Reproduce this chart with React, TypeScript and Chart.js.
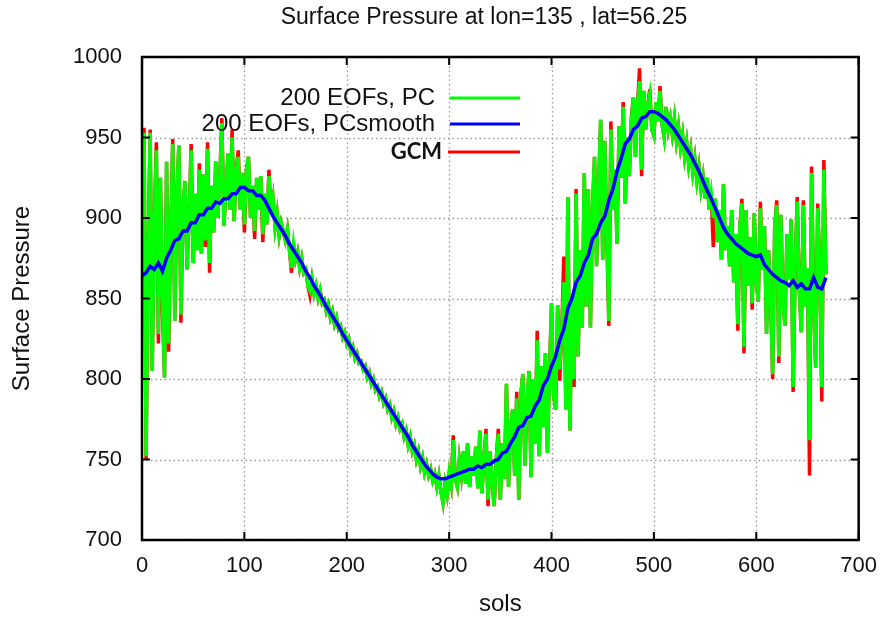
import React, { useEffect, useRef } from 'react';
import { Chart, registerables } from 'chart.js';

Chart.register(...registerables);

const TITLE = 'Surface Pressure at lon=135 , lat=56.25';
const X_LABEL = 'sols';
const Y_LABEL = 'Surface Pressure';
const LEGEND_LABELS = ['200 EOFs, PC', '200 EOFs, PCsmooth', 'GCM'];
const X_TICKS = [0, 100, 200, 300, 400, 500, 600, 700];
const Y_TICKS = [700, 750, 800, 850, 900, 950, 1000];

// sols between consecutive samples
const NOISY_STEP = 2;
const SMOOTH_STEP = 4;

// 200 EOFs, PC (sols 0..668 every 2 sols)
const PC = [
  865, 953, 752, 880, 953, 805, 900, 942, 828, 925,
  850, 801, 935, 822, 890, 946, 836, 915, 945, 840,
  905, 923, 868, 900, 942, 872, 915, 880, 930, 878,
  927, 886, 943, 872, 920, 891, 935, 900, 925, 959,
  895, 918, 940, 905, 950, 898, 930, 938, 905, 928,
  896, 930, 938, 900, 920, 892, 925, 905, 926, 890,
  915, 896, 926, 903, 912, 894, 903, 889, 897, 892,
  886, 893, 880, 869, 884, 874, 879, 869, 875, 866,
  868, 858, 855, 862, 853, 858, 850, 855, 847, 849,
  842, 846, 838, 842, 834, 838, 831, 833, 826, 829,
  822, 825, 817, 820, 813, 816, 810, 811, 806, 808,
  801, 804, 797, 800, 793, 795, 789, 792, 785, 788,
  781, 784, 776, 780, 772, 776, 769, 772, 764, 768,
  759, 764, 755, 759, 750, 755, 746, 751, 742, 747,
  740, 744, 737, 741, 733, 740, 730, 723, 735, 728,
  741, 734, 762, 738, 733, 750, 740, 755, 735, 760,
  733, 752, 740, 758, 732, 768, 729, 750, 766, 725,
  755, 735, 721, 750, 766, 725, 760, 738, 797, 733,
  770, 781, 740, 788, 725, 790, 803, 746, 785, 805,
  739, 800, 760, 824, 752, 808, 770, 816, 754, 800,
  847, 790, 781, 846, 806, 830, 860, 781, 913, 768,
  850, 800, 915, 814, 880, 832, 928, 845, 918, 832,
  905, 938, 870, 920, 961, 874, 948, 890, 836, 955,
  905, 930, 884, 957, 925, 969, 909, 950, 926, 960,
  975, 938, 970, 985, 930, 979, 955, 970, 977, 955,
  951, 972, 960, 979, 958, 950, 969, 955, 962, 952,
  962, 948, 957, 944, 952, 938, 947, 933, 942, 928,
  937, 923, 932, 918, 926, 912, 925, 905, 915, 900,
  912, 885, 905, 874, 921, 880, 895, 870, 905, 860,
  890, 834, 895, 909, 820, 905, 858, 888, 847, 903,
  860, 848, 906, 868, 895, 828, 880, 850, 803, 895,
  908, 814, 902, 850, 833, 890, 862, 899, 795, 870,
  910, 855, 829, 908, 845, 869, 762, 928, 850, 807,
  906, 870, 795, 930, 865,
];

// GCM (sols 0..668 every 2 sols)
const GCM = [
  865, 956, 750, 880, 955, 805, 900, 947, 822, 925,
  842, 801, 935, 817, 890, 949, 836, 915, 945, 835,
  905, 923, 868, 900, 946, 872, 915, 880, 934, 878,
  927, 882, 947, 866, 920, 891, 935, 900, 925, 962,
  895, 918, 940, 905, 955, 898, 930, 942, 905, 928,
  891, 930, 938, 900, 920, 887, 925, 905, 926, 885,
  915, 896, 930, 903, 912, 894, 903, 889, 897, 892,
  886, 893, 880, 866, 884, 874, 879, 869, 875, 866,
  868, 858, 852, 862, 853, 858, 850, 855, 847, 849,
  842, 846, 838, 842, 834, 838, 831, 833, 826, 829,
  822, 825, 817, 820, 813, 816, 810, 811, 806, 808,
  801, 804, 797, 800, 793, 795, 789, 792, 785, 788,
  781, 784, 776, 780, 772, 776, 769, 772, 764, 768,
  759, 764, 755, 759, 750, 755, 746, 751, 742, 747,
  740, 744, 737, 741, 733, 740, 730, 723, 735, 728,
  741, 734, 765, 738, 733, 750, 740, 755, 735, 760,
  733, 752, 740, 758, 732, 768, 729, 750, 769, 721,
  755, 735, 721, 750, 769, 725, 760, 738, 797, 733,
  770, 781, 740, 792, 725, 790, 803, 746, 785, 805,
  739, 800, 760, 830, 752, 808, 770, 816, 754, 805,
  847, 790, 781, 846, 799, 830, 876, 781, 913, 768,
  850, 795, 918, 814, 880, 832, 928, 845, 918, 832,
  905, 938, 870, 920, 961, 874, 948, 890, 833, 960,
  905, 930, 884, 957, 925, 972, 909, 950, 926, 963,
  975, 938, 970, 993, 926, 979, 955, 970, 980, 955,
  951, 972, 960, 982, 958, 950, 969, 955, 962, 952,
  962, 948, 957, 944, 952, 938, 947, 933, 942, 928,
  937, 923, 932, 918, 926, 912, 925, 905, 915, 882,
  912, 885, 905, 874, 921, 880, 895, 870, 905, 860,
  890, 830, 895, 912, 816, 905, 858, 888, 843, 903,
  860, 848, 910, 868, 895, 828, 880, 850, 800, 895,
  911, 810, 902, 850, 833, 890, 862, 899, 792, 870,
  913, 855, 829, 911, 845, 869, 740, 932, 850, 807,
  909, 870, 786, 936, 865,
];

// 200 EOFs, PCsmooth (sols 0..668 every 4 sols)
const PC_SMOOTH = [
  864, 866, 870, 868, 872, 867, 875, 880, 886, 887,
  892, 892, 897, 897, 902, 902, 906, 906, 910, 909,
  912, 912, 915, 915, 919, 919, 917, 917, 914, 914,
  911, 906, 901, 897, 893, 889, 884, 880, 876, 872,
  867, 863, 858, 854, 850, 845, 841, 837, 833, 828,
  824, 820, 816, 812, 808, 804, 800, 796, 792, 788,
  784, 780, 776, 772, 768, 764, 759, 755, 751, 747,
  744, 741, 739, 738, 738, 739, 740, 741, 742, 743,
  744, 744, 746, 745, 747, 747, 749, 750, 754, 755,
  760, 764, 770, 771, 776, 777, 783, 787, 796, 800,
  808, 814, 824, 831, 844, 850, 860, 864, 872, 877,
  887, 890, 897, 901, 911, 918, 929, 937, 946, 949,
  955, 957, 962, 963, 966, 966, 965, 963, 961, 958,
  955, 951, 947, 943, 939, 934, 929, 923, 917, 912,
  906, 900, 894, 890, 887, 884, 882, 880, 878, 877,
  876, 877, 871, 868, 865, 863, 861, 860, 858, 861,
  857, 859, 856, 856, 863, 857, 856, 863,
];

const COLORS = { pc: '#00ff00', smooth: '#0000ff', gcm: '#ff0000' };
const FONT = '"Liberation Sans", Arial, Helvetica, sans-serif';

const toPoints = (arr: number[], step: number) => arr.map((v, i) => ({ x: i * step, y: v }));

const decor = {
  id: 'decor',
  beforeDraw(chart: any) {
    const ctx = chart.ctx;
    ctx.save();
    ctx.fillStyle = '#ffffff';
    ctx.fillRect(0, 0, chart.width, chart.height);
    ctx.restore();
  },
  beforeDatasetsDraw(chart: any) {
    const { ctx, chartArea: a, scales } = chart;
    ctx.save();
    ctx.strokeStyle = '#9a9a9a';
    ctx.lineWidth = 1.3;
    ctx.setLineDash([1.5, 3]);
    X_TICKS.forEach((t) => {
      const px = Math.round(scales.x.getPixelForValue(t)) + 0.5;
      ctx.beginPath();
      ctx.moveTo(px, a.top);
      ctx.lineTo(px, a.bottom);
      ctx.stroke();
    });
    Y_TICKS.forEach((t) => {
      const py = Math.round(scales.y.getPixelForValue(t)) + 0.5;
      ctx.beginPath();
      ctx.moveTo(a.left, py);
      ctx.lineTo(a.right, py);
      ctx.stroke();
    });
    ctx.restore();
  },
  afterDatasetsDraw(chart: any) {
    const { ctx, chartArea: a, scales } = chart;
    ctx.save();
    ctx.strokeStyle = '#000';
    ctx.lineWidth = 2;
    const tl = 8;
    X_TICKS.forEach((t) => {
      const px = scales.x.getPixelForValue(t);
      ctx.beginPath();
      ctx.moveTo(px, a.bottom);
      ctx.lineTo(px, a.bottom - tl);
      ctx.moveTo(px, a.top);
      ctx.lineTo(px, a.top + tl);
      ctx.stroke();
    });
    Y_TICKS.forEach((t) => {
      const py = scales.y.getPixelForValue(t);
      ctx.beginPath();
      ctx.moveTo(a.left, py);
      ctx.lineTo(a.left + tl, py);
      ctx.moveTo(a.right, py);
      ctx.lineTo(a.right - tl, py);
      ctx.stroke();
    });
    ctx.lineWidth = 2.5;
    ctx.strokeRect(a.left, a.top, a.right - a.left, a.bottom - a.top);

    const rows = [
      { label: LEGEND_LABELS[0], color: COLORS.pc, y: 98, font: `24px ${FONT}`, tx: 435, x0: 450 },
      { label: LEGEND_LABELS[1], color: COLORS.smooth, y: 124, font: `24px ${FONT}`, tx: 435, x0: 450 },
      { label: LEGEND_LABELS[2], color: COLORS.gcm, y: 152, font: `bold 22px Lato, "Open Sans", sans-serif`, tx: 442, x0: 448 },
    ];
    rows.forEach((r) => {
      ctx.font = r.font;
      ctx.fillStyle = '#111';
      ctx.textAlign = 'right';
      ctx.textBaseline = 'middle';
      ctx.fillText(r.label, r.tx, r.y);
      ctx.strokeStyle = r.color;
      ctx.lineWidth = 3;
      ctx.beginPath();
      ctx.moveTo(r.x0, r.y);
      ctx.lineTo(520, r.y);
      ctx.stroke();
    });

    ctx.font = `23px ${FONT}`;
    ctx.fillStyle = '#111';
    ctx.textAlign = 'center';
    ctx.textBaseline = 'middle';
    ctx.fillText(TITLE, 484, 18);
    ctx.restore();
  },
};

export default function App() {
  const ref = useRef<HTMLCanvasElement>(null);
  useEffect(() => {
    if (!ref.current) return;
    const chart = new Chart(ref.current, {
      type: 'line',
      data: {
        datasets: [
          {
            label: LEGEND_LABELS[1],
            data: toPoints(PC_SMOOTH, SMOOTH_STEP),
            borderColor: COLORS.smooth,
            borderWidth: 3.5,
            pointRadius: 0,
            tension: 0,
          },
          {
            label: LEGEND_LABELS[0],
            data: toPoints(PC, NOISY_STEP),
            borderColor: COLORS.pc,
            borderWidth: 3.5,
            pointRadius: 0,
            tension: 0,
          },
          {
            label: LEGEND_LABELS[2],
            data: toPoints(GCM, NOISY_STEP),
            borderColor: COLORS.gcm,
            borderWidth: 3.5,
            pointRadius: 0,
            tension: 0,
          },
        ],
      },
      options: {
        animation: false,
        responsive: false,
        devicePixelRatio: 1,
        layout: { padding: { top: 57, right: 26, left: 0, bottom: 0 } },
        plugins: { legend: { display: false }, tooltip: { enabled: false }, title: { display: false } },
        scales: {
          x: {
            type: 'linear',
            min: 0,
            max: 700,
            ticks: { stepSize: 100, color: '#111', font: { family: FONT, size: 22 }, padding: 13, maxRotation: 0, callback: (v: any) => String(v) },
            grid: { display: false, drawTicks: false },
            border: { display: false },
            title: { display: true, text: X_LABEL, color: '#111', font: { family: FONT, size: 24 }, padding: { top: 1, bottom: 0 } },
            afterFit: (s: any) => { s.height = 79; },
          },
          y: {
            type: 'linear',
            min: 700,
            max: 1000,
            ticks: { stepSize: 50, color: '#111', font: { family: FONT, size: 22 }, padding: 20, callback: (v: any) => String(v) },
            grid: { display: false, drawTicks: false },
            border: { display: false },
            title: { display: true, text: Y_LABEL, color: '#111', font: { family: FONT, size: 24 }, padding: { top: 8, bottom: 0 } },
            afterFit: (s: any) => { s.width = 142; },
          },
        },
      },
      plugins: [decor],
    } as any);
    return () => chart.destroy();
  }, []);
  return (
    <div style={{ position: 'fixed', left: 0, top: 0, width: 890, height: 619, background: '#fff' }}>
      <canvas ref={ref} width={890} height={619} style={{ width: 890, height: 619 }} />
    </div>
  );
}
